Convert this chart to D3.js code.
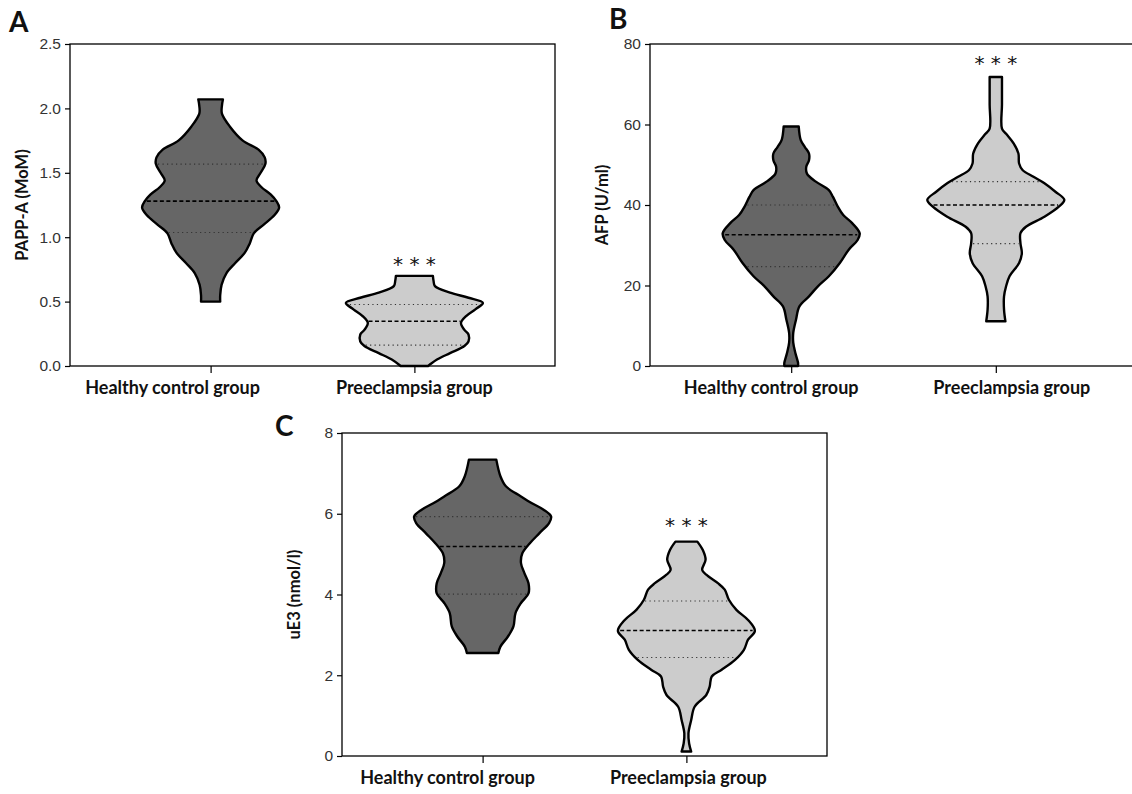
<!DOCTYPE html>
<html>
<head>
<meta charset="utf-8">
<script src="https://cdn.jsdelivr.net/npm/d3@7"></script>
<style>
  body { margin: 0; background: #fff; }
  svg { display: block; font-family: Lato, "Open Sans", sans-serif; }
  .tick text { font-size: 15.5px; font-weight: 300; fill: #333; }
  .xlab { font-size: 18px; font-weight: 700; fill: #111; }
  .ytitle { font-size: 16.5px; font-weight: 700; fill: #111; }
  .panel-letter { font-size: 28px; font-weight: 700; fill: #111; }
  .stars { font-family: "DejaVu Sans", sans-serif; font-size: 20px; fill: #111; }
</style>
</head>
<body>
<svg width="1132" height="794"></svg>
<script>
const groups = ["Healthy control group", "Preeclampsia group"];

// violin outlines: [value, relative half-width]
const pappHealthy = [[2.07,0.18],[2.02,0.165],[1.96,0.165],[1.86,0.28],[1.75,0.47],[1.68,0.70],[1.62,0.79],
  [1.57,0.80],[1.50,0.73],[1.44,0.67],[1.39,0.74],[1.33,0.88],[1.28,0.96],[1.23,1.0],[1.17,0.93],[1.10,0.78],
  [1.03,0.63],[0.95,0.57],[0.88,0.50],[0.80,0.36],[0.72,0.23],[0.63,0.16],[0.55,0.14],[0.50,0.14]];
const pappPre = [[0.70,0.27],[0.66,0.28],[0.62,0.30],[0.57,0.52],[0.53,0.79],[0.49,1.0],[0.44,0.89],
  [0.39,0.76],[0.335,0.68],[0.28,0.73],[0.245,0.79],[0.19,0.79],[0.155,0.73],[0.10,0.52],[0.05,0.33],[0.0,0.20]];
const afpHealthy = [[59.5,0.11],[56.1,0.14],[54.4,0.20],[52.8,0.26],[51.1,0.26],[49.5,0.22],[47.8,0.23],
  [45.8,0.36],[43.7,0.55],[42,0.61],[39.6,0.68],[37.5,0.76],[35.5,0.89],[33,1.0],[31.3,0.97],[28.9,0.84],
  [25.6,0.71],[22.3,0.55],[19.8,0.39],[17.3,0.26],[14.8,0.12],[11.5,0.07],[8.2,0.03],[5.8,0.03],[3.3,0.06],
  [0.8,0.10],[0,0.10]];
const afpPre = [[71.8,0.09],[65,0.09],[59,0.09],[57.7,0.15],[55.3,0.26],[52.8,0.33],[50.3,0.34],[48.7,0.39],
  [47,0.55],[45.4,0.71],[43.3,0.87],[41.3,1.0],[39.6,0.92],[37.1,0.71],[34.6,0.44],[33,0.36],[30.5,0.36],
  [28,0.38],[25.6,0.34],[22.3,0.20],[19.8,0.15],[17.3,0.12],[14,0.12],[11.1,0.14]];
const ue3Healthy = [[7.34,0.20],[6.93,0.26],[6.68,0.34],[6.43,0.56],[6.26,0.72],[6.1,0.89],[5.93,1.0],
  [5.77,0.97],[5.52,0.83],[5.27,0.69],[5.02,0.58],[4.78,0.56],[4.53,0.61],[4.28,0.67],[4.03,0.67],[3.79,0.56],
  [3.54,0.48],[3.21,0.45],[2.96,0.37],[2.71,0.26],[2.55,0.23]];
const ue3Pre = [[5.31,0.16],[5.1,0.24],[4.86,0.28],[4.61,0.23],[4.49,0.29],[4.28,0.46],[4.12,0.56],[3.87,0.62],
  [3.62,0.73],[3.37,0.90],[3.1,1.0],[2.88,0.90],[2.63,0.84],[2.38,0.71],[2.13,0.51],[1.97,0.37],[1.72,0.34],
  [1.51,0.29],[1.22,0.12],[0.89,0.07],[0.56,0.03],[0.31,0.04],[0.11,0.07]];

// [upper quartile, median, lower quartile] per group
const pappQuart = [[1.567,1.28,1.036],[0.477,0.348,0.162]];
const afpQuart = [[40.0,32.6,24.7],[45.8,40.0,30.4]];
const ue3Quart = [[5.93,5.19,4.01],[3.84,3.11,2.44]];

const pappTicks = [0, 0.5, 1.0, 1.5, 2.0, 2.5];
const afpTicks = [0, 20, 40, 60, 80];
const ue3Ticks = [0, 2, 4, 6, 8];

// level of the "***" mark above the preeclampsia violin
const starLevel = [0.83, 76.5, 5.84];

const svg = d3.select("svg");
const fills = ["#666666", "#cccccc"];

const panels = [
  { letter: "A", lx: 9, ly: 32, left: 70, top: 44, w: 485, h: 322, max: 2.5, ticks: pappTicks,
    fmt: d3.format(".1f"), title: "PAPP-A (MoM)", shapes: [pappHealthy, pappPre], quart: pappQuart,
    star: starLevel[0], labOff: [-38, 0] },
  // panel B runs past the right edge of the page, so its right border is cut off
  { letter: "B", lx: 609, ly: 29, left: 650, top: 44, w: 487, h: 322, max: 80, ticks: afpTicks,
    fmt: d3.format("d"), title: "AFP (U/ml)", shapes: [afpHealthy, afpPre], quart: afpQuart,
    star: starLevel[1], labOff: [-20, 16] },
  { letter: "C", lx: 275, ly: 436, left: 342, top: 433, w: 485, h: 323, max: 8, ticks: ue3Ticks,
    fmt: d3.format("d"), title: "uE3 (nmol/l)", shapes: [ue3Healthy, ue3Pre], quart: ue3Quart,
    star: starLevel[2], labOff: [-35, 2] }
];

panels.forEach(drawPanel);

function halfAt(shape, v) {
  for (let i = 0; i < shape.length - 1; i++) {
    const a = shape[i], b = shape[i + 1];
    if (v <= a[0] && v >= b[0]) {
      const t = (a[0] - v) / (a[0] - b[0]);
      return a[1] + t * (b[1] - a[1]);
    }
  }
  return 0;
}

function drawPanel(p) {
  const g = svg.append("g");
  const x = d3.scalePoint().domain(groups).range([p.left, p.left + p.w]).padding(0.69);
  const y = d3.scaleLinear().domain([0, p.max]).range([p.top + p.h, p.top]);
  const wid = d3.scaleLinear().domain([0, 1]).range([0, 68.5]);

  // violins
  p.shapes.forEach((shape, i) => {
    const cx = x(groups[i]);
    const area = d3.area()
      .y(d => y(d[0]))
      .x0(d => cx - wid(d[1]))
      .x1(d => cx + wid(d[1]))
      .curve(d3.curveCatmullRom);

    g.append("path")
      .attr("d", area(shape))
      .attr("fill", fills[i])
      .attr("stroke", "#000")
      .attr("stroke-width", 2.4)
      .attr("stroke-linejoin", "round");

    p.quart[i].forEach((q, k) => {
      const hw = wid(halfAt(shape, q)) - 2;
      g.append("line")
        .attr("x1", cx - hw).attr("x2", cx + hw)
        .attr("y1", y(q)).attr("y2", y(q))
        .attr("stroke", k === 1 ? "#000" : "#333")
        .attr("stroke-width", k === 1 ? 1.6 : 1.1)
        .attr("stroke-dasharray", k === 1 ? "4,2.5" : "1.2,3.3");
    });
  });

  // frame
  g.append("rect")
    .attr("x", p.left).attr("y", p.top)
    .attr("width", p.w).attr("height", p.h)
    .attr("fill", "none").attr("stroke", "#000").attr("stroke-width", 1.3);

  const yAxis = g.append("g")
    .attr("transform", `translate(${p.left},0)`)
    .call(d3.axisLeft(y).tickValues(p.ticks).tickFormat(p.fmt).tickSize(5).tickPadding(4));
  yAxis.select(".domain").remove();
  yAxis.selectAll("line").attr("stroke", "#000").attr("stroke-width", 1.2);

  const xAxis = g.append("g")
    .attr("transform", `translate(0,${p.top + p.h})`)
    .call(d3.axisBottom(x).tickSize(7).tickFormat(""));
  xAxis.select(".domain").remove();
  xAxis.selectAll("line").attr("stroke", "#000").attr("stroke-width", 1.2);

  groups.forEach((name, i) => {
    g.append("text")
      .attr("class", "xlab")
      .attr("x", x(name) + p.labOff[i])
      .attr("y", p.top + p.h + 28)
      .attr("text-anchor", "middle")
      .text(name);
  });

  g.append("text")
    .attr("class", "ytitle")
    .attr("transform", `translate(${p.left - 42},${p.top + p.h / 2}) rotate(-90)`)
    .attr("text-anchor", "middle")
    .text(p.title);

  g.append("text")
    .attr("class", "stars")
    .attr("x", x(groups[1]))
    .attr("y", y(p.star) + 12)
    .attr("text-anchor", "middle")
    .text("* * *");

  g.append("text")
    .attr("class", "panel-letter")
    .attr("x", p.lx).attr("y", p.ly)
    .text(p.letter);
}
</script>
</body>
</html>
